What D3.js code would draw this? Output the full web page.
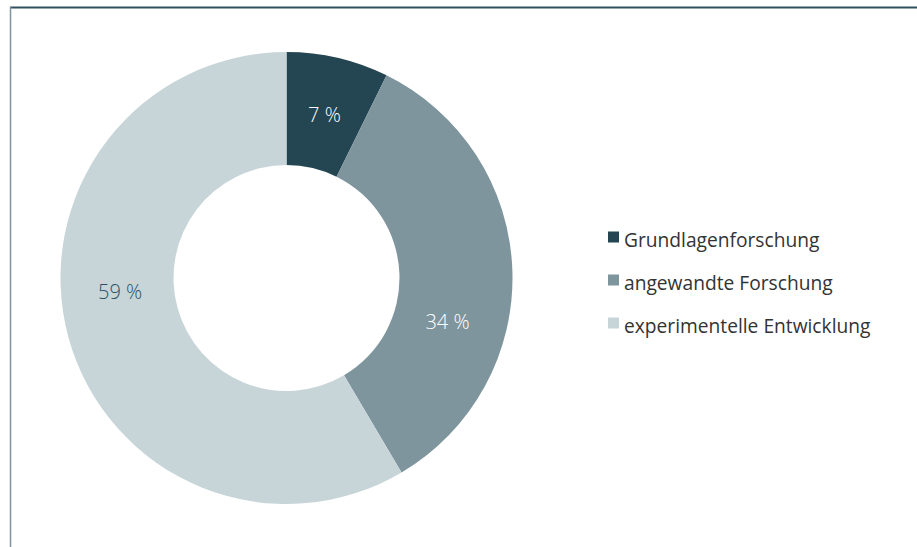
<!DOCTYPE html>
<html><head><meta charset="utf-8">
<script src="https://cdn.jsdelivr.net/npm/d3@7"></script>
<style>html,body{margin:0;padding:0;background:#fff;}svg{display:block;}</style>
</head><body>
<svg id="c" width="917" height="547"></svg>
<script>
const categories = ["Grundlagenforschung", "angewandte Forschung", "experimentelle Entwicklung"];
const values = [7.3, 34.2, 58.5];
const labels = ["7 %", "34 %", "59 %"];
const labelFrac = [0.5, 0.643, 0.55];
const colors = ["#244552", "#7e959e", "#c7d5d9"];
const labelColors = ["#ffffff", "#ffffff", "#2b5262"];

const svg = d3.select("#c");
// frame
svg.append("line").attr("x1",10).attr("x2",917).attr("y1",7.5).attr("y2",7.5).attr("stroke","#2f525e").attr("stroke-width",2);
svg.append("line").attr("x1",10.5).attr("x2",10.5).attr("y1",7).attr("y2",547).attr("stroke","#7f959e").attr("stroke-width",1.5);

const cx = 286.5, cy = 278, rO = 226, rI = 113;
const g = svg.append("g").attr("transform",`translate(${cx},${cy})`);
const pie = d3.pie().sort(null).value(d=>d);
const arcs = pie(values);
const arc = d3.arc().innerRadius(rI).outerRadius(rO);
g.selectAll("path").data(arcs).join("path").attr("d",arc).attr("fill",(d,i)=>colors[i]);

const rL = 167;
g.selectAll("text").data(arcs).join("text")
  .attr("x",(d,i)=>{const a=d.startAngle+(d.endAngle-d.startAngle)*labelFrac[i];return rL*Math.sin(a);})
  .attr("y",(d,i)=>{const a=d.startAngle+(d.endAngle-d.startAngle)*labelFrac[i];return -rL*Math.cos(a);})
  .attr("dy","0.35em").attr("text-anchor","middle")
  .attr("font-family","'Open Sans', sans-serif").attr("font-weight",300).attr("font-size",20)
  .attr("fill",(d,i)=>labelColors[i]).text((d,i)=>labels[i]);

const leg = svg.append("g").attr("transform","translate(608,0)");
const ly = d3.scalePoint().domain(categories).range([239, 325]);
categories.forEach((c,i)=>{
  leg.append("rect").attr("x",0).attr("y",ly(c)-7.5).attr("width",11).attr("height",11).attr("fill",colors[i]);
  leg.append("text").attr("x",16).attr("y",ly(c)+7.5).attr("font-family","'Open Sans', sans-serif")
    .attr("font-size",19.2).attr("fill","#333").text(c);
});
</script>
</body></html>
